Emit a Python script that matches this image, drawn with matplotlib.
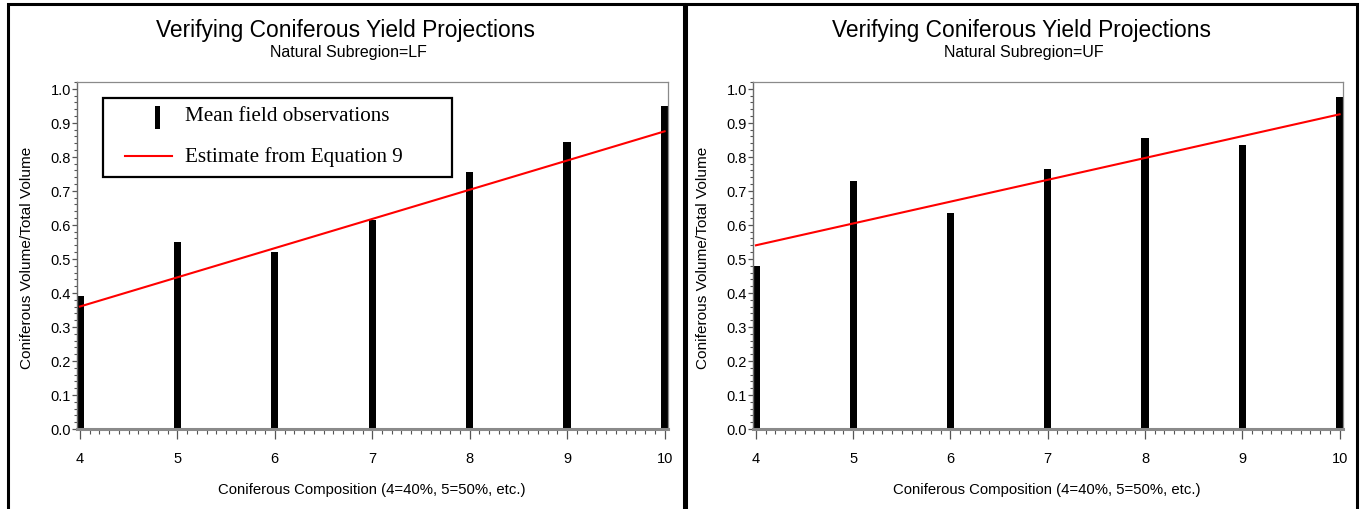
import matplotlib
matplotlib.use("Agg")
import matplotlib.pyplot as plt
from matplotlib.patches import Rectangle
from matplotlib.lines import Line2D
from matplotlib.ticker import MultipleLocator, FormatStrFormatter

# Coniferous composition classes (4 = 40%, 5 = 50%, ...)
composition = [4, 5, 6, 7, 8, 9, 10]

# Mean field observations of coniferous volume / total volume
obs_lf = [0.39, 0.55, 0.52, 0.615, 0.755, 0.845, 0.95]
obs_uf = [0.48, 0.73, 0.635, 0.765, 0.855, 0.835, 0.975]

# Equation 9 estimates at the ends of the composition range
est_x = [4, 10]
est_lf = [0.36, 0.875]
est_uf = [0.54, 0.925]

subregions = ["LF", "UF"]

W, H = 1364, 510
fig = plt.figure(figsize=(W / 100, H / 100), dpi=100)
fig.patch.set_facecolor("white")

SANS = ["Liberation Sans", "DejaVu Sans"]
SERIF = ["Liberation Serif", "DejaVu Serif"]


def fx(px):
    return px / W


def fy(py):
    return 1 - py / H


def panel(x0, x1, ax_l, ax_r, obs, est, region, legend=False):
    # outer frame of the panel
    fig.patches.append(Rectangle((fx(x0), fy(H + 10)), fx(x1) - fx(x0), fy(5) - fy(H + 10),
                                 transform=fig.transFigure, fill=False,
                                 edgecolor="black", linewidth=2.2))
    cx = (x0 + x1) / 2
    fig.text(fx(cx), fy(37), "Verifying Coniferous Yield Projections",
             ha="center", va="baseline", fontsize=16.4, family=SANS)
    fig.text(fx(cx + 2), fy(57.5), f"Natural Subregion={region}",
             ha="center", va="baseline", fontsize=11.5, family=SANS)

    ax_t, ax_b = 83, 430
    ax = fig.add_axes([fx(ax_l), fy(ax_b), fx(ax_r) - fx(ax_l), fy(ax_t) - fy(ax_b)])
    ax.bar(composition, obs, width=0.075, color="black", zorder=2)
    ax.plot(est_x, est, color="#ff0000", linewidth=1.5, zorder=3)
    ax.set_xlim(3.97, 10.035)
    ax.set_ylim(0, 1.02)

    ax.xaxis.set_major_locator(MultipleLocator(1))
    ax.xaxis.set_minor_locator(MultipleLocator(0.1))
    ax.yaxis.set_major_locator(MultipleLocator(0.1))
    ax.yaxis.set_minor_locator(MultipleLocator(0.02))
    ax.yaxis.set_major_formatter(FormatStrFormatter("%.1f"))

    ax.tick_params(axis="y", which="major", direction="out", length=3.8, width=0.9,
                   color="#555555", pad=0.5, labelsize=10.5)
    ax.tick_params(axis="y", which="minor", direction="out", length=2.2, width=0.8,
                   color="#555555")
    ax.tick_params(axis="x", which="major", direction="out", length=7, width=0.9,
                   color="#555555", pad=9, labelsize=10.5)
    ax.tick_params(axis="x", which="minor", direction="out", length=3.4, width=0.8,
                   color="#555555")
    for lab in ax.get_xticklabels() + ax.get_yticklabels():
        lab.set_family(SANS)

    for side in ["top", "right"]:
        ax.spines[side].set_color("#8a8a8a")
        ax.spines[side].set_linewidth(0.9)
    ax.spines["left"].set_color("#6a6a6a")
    ax.spines["left"].set_linewidth(1.0)
    ax.spines["bottom"].set_color("#8a8a8a")
    ax.spines["bottom"].set_linewidth(2.2)

    fig.text(fx(ax_l - 50), fy(258), "Coniferous Volume/Total Volume", rotation=90,
             ha="center", va="center", fontsize=11.1, family=SANS)
    fig.text(fx((ax_l + ax_r) / 2 - 1), fy(490), "Coniferous Composition (4=40%, 5=50%, etc.)",
             ha="center", va="center", fontsize=10.7, family=SANS)

    if legend:
        fig.patches.append(Rectangle((fx(103), fy(178)), fx(452) - fx(103), fy(99) - fy(178),
                                     transform=fig.transFigure, fill=False,
                                     edgecolor="black", linewidth=1.6, zorder=5))
        fig.patches.append(Rectangle((fx(154.5), fy(130)), fx(159.5) - fx(154.5), fy(107) - fy(130),
                                     transform=fig.transFigure, facecolor="black",
                                     edgecolor="none", zorder=5))
        fig.lines.append(Line2D([fx(125), fx(172)], [fy(157), fy(157)],
                                transform=fig.transFigure, color="#ff0000",
                                linewidth=1.5, zorder=5))
        fig.text(fx(185), fy(117), "Mean field observations", ha="left", va="center",
                 fontsize=15.2, family=SERIF)
        fig.text(fx(185), fy(157), "Estimate from Equation 9", ha="left", va="center",
                 fontsize=15.2, family=SERIF)
    return ax


panel(8, 684, 77, 668, obs_lf, est_lf, subregions[0], legend=True)
panel(686, 1357, 753, 1343, obs_uf, est_uf, subregions[1])

fig.savefig("out.png", dpi=100)
